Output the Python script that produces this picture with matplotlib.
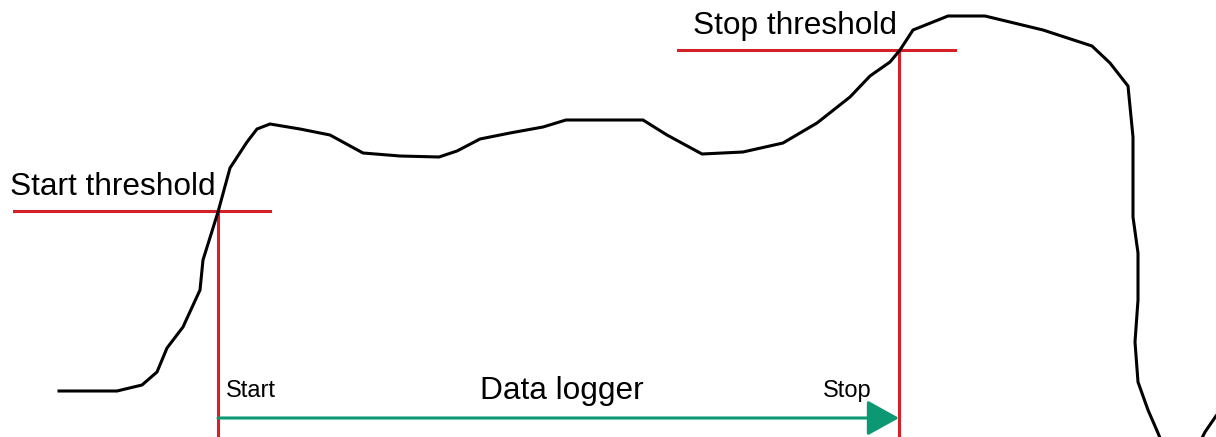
import matplotlib
matplotlib.use("Agg")
import matplotlib.pyplot as plt

# Signal curve (pixel-like diagram coordinates, y downward)
curve_x = [59, 117, 142, 157, 167, 183, 200, 203, 218, 230, 247, 257, 270, 300, 330, 363,
           400, 439, 457, 480, 510, 543, 566, 643, 667, 702, 743, 783, 817, 850,
           870, 890, 900, 913, 948, 985, 1043, 1092, 1110, 1128, 1133, 1133, 1138, 1138,
           1135, 1138, 1148, 1158, 1168, 1192, 1205, 1216]
curve_y = [391, 391, 385, 372, 348, 327, 290, 260, 212, 168, 142, 129, 124, 129, 135, 153,
           156, 157, 151, 139, 133, 127, 120, 120, 135, 154, 152, 143, 123, 97,
           76, 62, 50, 30, 16, 16, 30, 46, 63, 86, 137, 217, 253, 300,
           342, 382, 410, 433, 458, 458, 432, 416]

start_threshold_y = 211
stop_threshold_y = 50
start_x = 218
stop_x = 899
start_thr_span = (14, 270)
stop_thr_span = (678, 955)
arrow_y = 418

RED = '#d42027'
GREEN = '#0c9872'

plt.rcParams['font.family'] = ['Liberation Sans', 'DejaVu Sans']

fig = plt.figure(figsize=(12.16, 4.37), dpi=100)
ax = fig.add_axes([0, 0, 1, 1])
ax.set_xlim(0, 1216)
ax.set_ylim(437, 0)
ax.axis('off')

ax.plot(curve_x, curve_y, color='black', lw=2.2, solid_joinstyle='miter', zorder=3)

ax.plot(start_thr_span, [start_threshold_y]*2, color=RED, lw=2.2, zorder=2)
ax.plot(stop_thr_span, [stop_threshold_y]*2, color=RED, lw=2.2, zorder=2)
ax.plot([start_x, start_x], [start_threshold_y, 437], color=RED, lw=2.2, zorder=2)
ax.plot([stop_x, stop_x], [stop_threshold_y, 437], color=RED, lw=2.2, zorder=2)

ax.annotate('', xy=(stop_x, arrow_y), xytext=(start_x, arrow_y),
            arrowprops=dict(arrowstyle='-|>,head_length=0.9,head_width=0.5',
                            mutation_scale=22, lw=2.2, color=GREEN,
                            shrinkA=0, shrinkB=0), zorder=4)

ax.text(10, 187, 'Start threshold', fontsize=22.8, ha='left', va='center')
ax.text(693, 26, 'Stop threshold', fontsize=22.8, ha='left', va='center')
ax.text(562, 391, 'Data logger', fontsize=22.8, ha='center', va='center')
ax.text(226, 391, 'Start', fontsize=17, ha='left', va='center')
ax.text(872, 391, 'Stop', fontsize=17, ha='right', va='center')

fig.savefig('out.png', dpi=100)
